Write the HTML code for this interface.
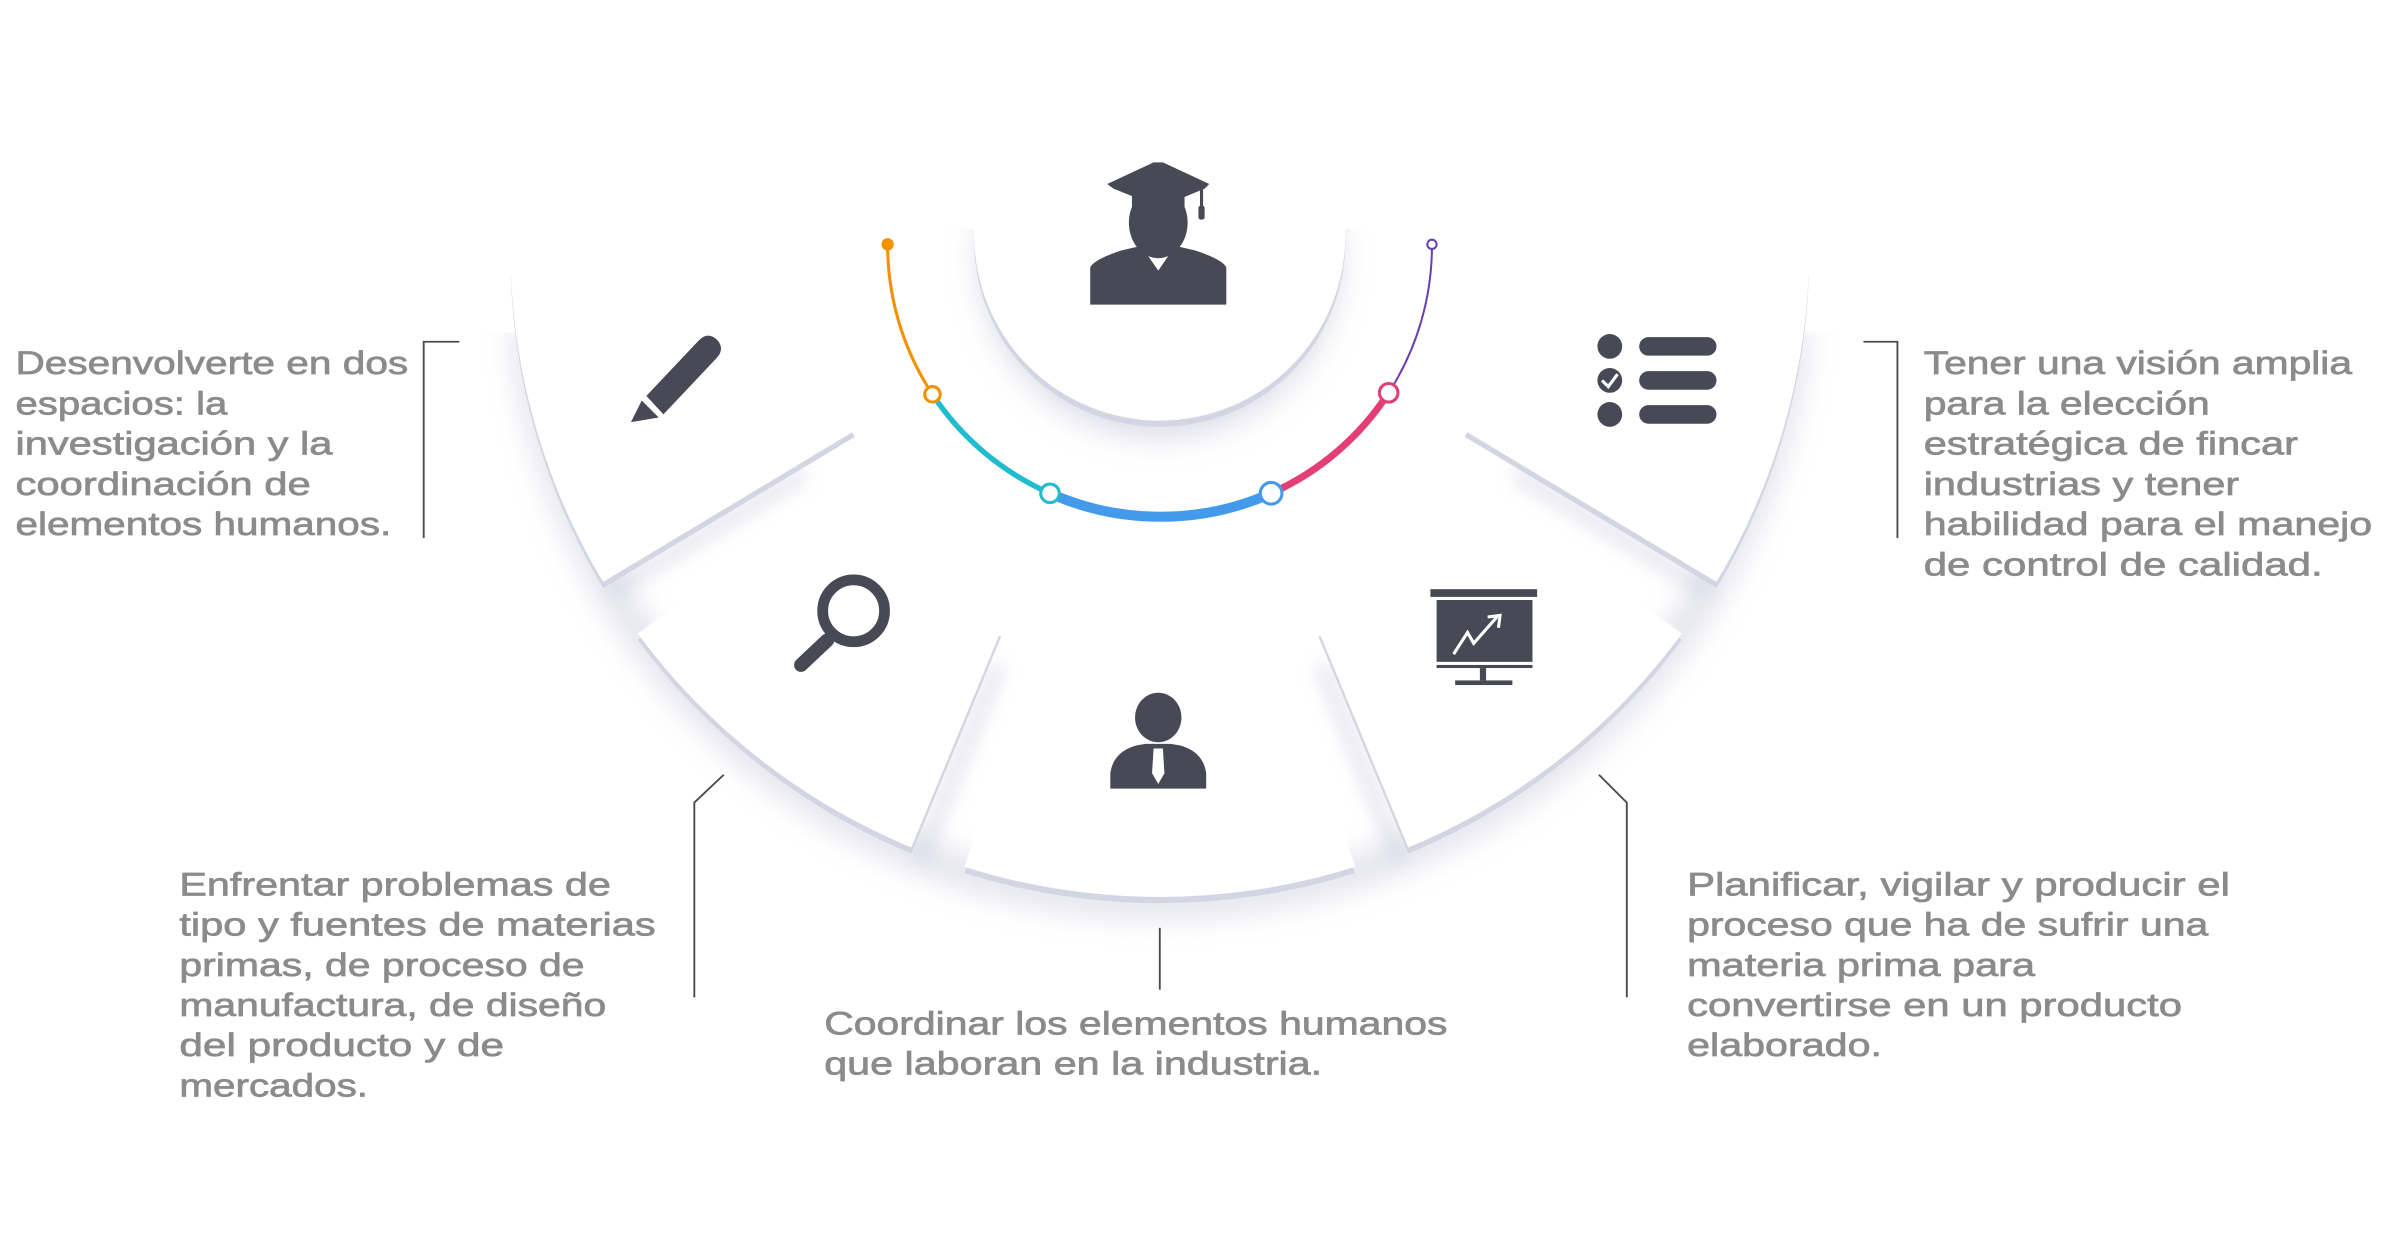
<!DOCTYPE html>
<html><head><meta charset="utf-8"><style>
html,body{margin:0;padding:0;background:#fff;}
svg{display:block;}
text{font-family:"Liberation Sans",sans-serif;font-size:21px;fill:#8b8b8b;stroke:#8b8b8b;stroke-width:0.45;}
</style></head><body>
<svg width="2400" height="1260" viewBox="0 0 1552 814.8" xmlns="http://www.w3.org/2000/svg">
<defs>
<filter id="sh" x="-30%" y="-30%" width="160%" height="160%"><feGaussianBlur stdDeviation="10"/></filter>
<filter id="sh2" x="-30%" y="-30%" width="160%" height="160%"><feGaussianBlur stdDeviation="6"/></filter>
<clipPath id="cupclip"><rect x="0" y="148" width="1552" height="700"/></clipPath>
<clipPath id="shclip"><rect x="0" y="215" width="1552" height="700"/></clipPath>
<path id="wTL" d="M552.8,278.5 L390,376.3 A420,420 0 0 1 330.3,174.7 L520.1,168 A230,230 0 0 0 552.8,278.5 Z"/>
<path id="wBL" d="M565.1,296.8 L412.4,409.8 A420,420 0 0 0 589.3,548 L662,372.5 A230,230 0 0 1 565.1,296.8 Z"/>
<path id="wBC" d="M680.8,379.4 L623.7,560.6 A420,420 0 0 0 876.3,560.6 L819.2,379.4 A230,230 0 0 1 680.8,379.4 Z"/>
<path id="wBR" d="M838,372.5 L910.7,548 A420,420 0 0 0 1087.6,409.8 L934.9,296.8 A230,230 0 0 1 838,372.5 Z"/>
<path id="wTR" d="M947.2,278.5 L1110,376.3 A420,420 0 0 0 1169.7,174.7 L979.9,168 A230,230 0 0 1 947.2,278.5 Z"/>
</defs>
<rect width="1552" height="814.8" fill="#fff"/>
<!-- shadows along outer arc -->
<g clip-path="url(#shclip)">
<path d="M340,200 A412,412 0 0 0 1160,200" fill="none" stroke="#b4b5cf" stroke-width="14" opacity="0.55" filter="url(#sh)" transform="translate(0,12)"/>
</g>
<g fill="none" stroke="#b8b9d2" stroke-width="8" opacity="0.45" filter="url(#sh2)" transform="translate(0,10)">
<path d="M395,372 L520,296"/><path d="M1105,372 L980,296"/>
<path d="M595,545 L645,420"/><path d="M905,545 L855,420"/>
</g>
<!-- rims -->
<g fill="#d3d6e2" transform="translate(0,4)">
<use href="#wTL"/><use href="#wBL"/><use href="#wBC"/><use href="#wBR"/><use href="#wTR"/>
</g>
<!-- white faces -->
<g fill="#fff">
<use href="#wTL"/><use href="#wBL"/><use href="#wBC"/><use href="#wBR"/><use href="#wTR"/>
<circle cx="750" cy="240" r="200"/>
</g>
<!-- cup -->
<g clip-path="url(#cupclip)"><circle cx="750" cy="166" r="116" fill="#b4b5cf" opacity="0.5" filter="url(#sh)"/></g>
<g clip-path="url(#cupclip)"><circle cx="750" cy="156" r="120" fill="#d3d6e2"/></g>
<circle cx="750" cy="152" r="120" fill="#fff"/>
<!-- colored arc -->
<g fill="none" stroke-linecap="round">
<path d="M574,158 A176,176 0 0 0 603,255" stroke="#f39200" stroke-width="2"/>
<path d="M603,255 A176,176 0 0 0 679,319" stroke="#22bccf" stroke-width="3.5"/>
<path d="M679,319 A176,176 0 0 0 822,319" stroke="#4399ea" stroke-width="6.5"/>
<path d="M822,319 A176,176 0 0 0 898,254" stroke="#e33f74" stroke-width="4.5"/>
<path d="M898,254 A176,176 0 0 0 926,158" stroke="#6a3fb0" stroke-width="1.3"/>
</g>
<circle cx="574" cy="158" r="4" fill="#f39200"/>
<circle cx="926" cy="158" r="3" fill="#fff" stroke="#6a3fb0" stroke-width="1.3"/>
<circle cx="603" cy="255" r="5" fill="#fff" stroke="#f39200" stroke-width="2"/>
<circle cx="679" cy="319" r="6" fill="#fff" stroke="#22bccf" stroke-width="2"/>
<circle cx="822" cy="319" r="7" fill="#fff" stroke="#4399ea" stroke-width="2"/>
<circle cx="898" cy="254" r="6" fill="#fff" stroke="#e33f74" stroke-width="2"/>
<!-- icons -->
<g fill="#474a55">
<path d="M716,119 L746,105 L752,105 L782,119 L779,122 L750,134 L720,122 Z"/>
<rect x="732" y="120" width="34" height="22"/>
<ellipse cx="749" cy="144" rx="19" ry="23"/>
<rect x="776" y="120" width="2" height="16"/><rect x="775" y="133" width="4" height="9" rx="1.5"/>
<path d="M705,197 L705,173 Q707,168 725,162 L738,159 L749,175 L760,159 L773,162 Q791,168 793,173 L793,197 Z"/>
<path d="M418,256 L452,220 Q458,214 464,220 Q469,226 463,232 L429,268 Z"/>
<path d="M415,259 L426,270 L408,273 Z"/>
<circle cx="1041" cy="224" r="8"/><circle cx="1041" cy="246" r="8"/><circle cx="1041" cy="268" r="8"/>
<rect x="1060" y="218" width="50" height="12" rx="6"/><rect x="1060" y="240" width="50" height="12" rx="6"/><rect x="1060" y="262" width="50" height="12" rx="6"/>
<ellipse cx="749" cy="464" rx="15" ry="16"/>
<path d="M718,510 L718,500 Q720,486 735,482 L741,481 L757,481 L763,482 Q778,486 780,500 L780,510 Z"/>
<rect x="925" y="381" width="69" height="5"/>
<rect x="929" y="388" width="62" height="40"/>
<rect x="929" y="430" width="62" height="2"/>
<rect x="957" y="432" width="4" height="8"/>
<rect x="941" y="440" width="37" height="3"/>
</g>
<path d="M1036,246 L1040,250 L1046,242" fill="none" stroke="#fff" stroke-width="2"/>
<path d="M746,484 L752,484 L753,500 L749,507 L745,500 Z" fill="#fff"/>
<circle cx="552" cy="395" r="20" fill="none" stroke="#474a55" stroke-width="7"/>
<path d="M535,414 L518,430" stroke="#474a55" stroke-width="9" stroke-linecap="round"/>
<path d="M940,423 L949,409 L953,416 L968,399" fill="none" stroke="#fff" stroke-width="2"/>
<path d="M962,399 L970,398 L969,406" fill="none" stroke="#fff" stroke-width="2"/>
<!-- bracket lines -->
<g fill="none" stroke="#4a4a4a" stroke-width="1.2">
<path d="M297,221 L274,221 L274,348"/>
<path d="M1205,221 L1227,221 L1227,348"/>
<path d="M468,501 L449,519 L449,645"/>
<path d="M750,600 L750,640"/>
<path d="M1034,501 L1052,519 L1052,645"/>
</g>
<!-- text -->
<text x="10" y="242" textLength="254" lengthAdjust="spacingAndGlyphs">Desenvolverte en dos</text>
<text x="10" y="268" textLength="137" lengthAdjust="spacingAndGlyphs">espacios: la</text>
<text x="10" y="294" textLength="205" lengthAdjust="spacingAndGlyphs">investigación y la</text>
<text x="10" y="320" textLength="191" lengthAdjust="spacingAndGlyphs">coordinación de</text>
<text x="10" y="346" textLength="243" lengthAdjust="spacingAndGlyphs">elementos humanos.</text>

<text x="1244" y="242" textLength="277" lengthAdjust="spacingAndGlyphs">Tener una visión amplia</text>
<text x="1244" y="268" textLength="185" lengthAdjust="spacingAndGlyphs">para la elección</text>
<text x="1244" y="294" textLength="242" lengthAdjust="spacingAndGlyphs">estratégica de fincar</text>
<text x="1244" y="320" textLength="204" lengthAdjust="spacingAndGlyphs">industrias y tener</text>
<text x="1244" y="346" textLength="290" lengthAdjust="spacingAndGlyphs">habilidad para el manejo</text>
<text x="1244" y="372" textLength="258" lengthAdjust="spacingAndGlyphs">de control de calidad.</text>

<text x="116" y="579" textLength="279" lengthAdjust="spacingAndGlyphs">Enfrentar problemas de</text>
<text x="116" y="605" textLength="308" lengthAdjust="spacingAndGlyphs">tipo y fuentes de materias</text>
<text x="116" y="631" textLength="262" lengthAdjust="spacingAndGlyphs">primas, de proceso de</text>
<text x="116" y="657" textLength="276" lengthAdjust="spacingAndGlyphs">manufactura, de diseño</text>
<text x="116" y="683" textLength="210" lengthAdjust="spacingAndGlyphs">del producto y de</text>
<text x="116" y="709" textLength="122" lengthAdjust="spacingAndGlyphs">mercados.</text>

<text x="533" y="669" textLength="403" lengthAdjust="spacingAndGlyphs">Coordinar los elementos humanos</text>
<text x="533" y="695" textLength="322" lengthAdjust="spacingAndGlyphs">que laboran en la industria.</text>

<text x="1091" y="579" textLength="351" lengthAdjust="spacingAndGlyphs">Planificar, vigilar y producir el</text>
<text x="1091" y="605" textLength="337" lengthAdjust="spacingAndGlyphs">proceso que ha de sufrir una</text>
<text x="1091" y="631" textLength="225" lengthAdjust="spacingAndGlyphs">materia prima para</text>
<text x="1091" y="657" textLength="320" lengthAdjust="spacingAndGlyphs">convertirse en un producto</text>
<text x="1091" y="683" textLength="126" lengthAdjust="spacingAndGlyphs">elaborado.</text>
</svg>
</body></html>
